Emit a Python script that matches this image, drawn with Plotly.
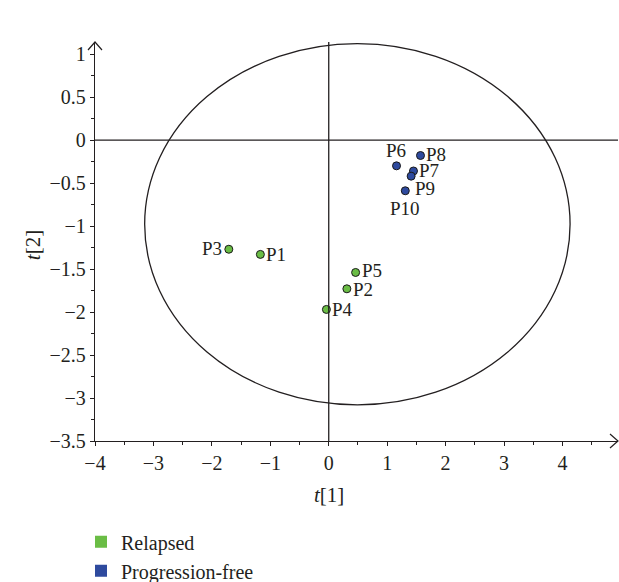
import plotly.graph_objects as go

# ---- data ----
relapsed_labels = ["P1", "P2", "P3", "P4", "P5"]
relapsed_t1 = [-1.17, 0.31, -1.71, -0.04, 0.46]
relapsed_t2 = [-1.33, -1.73, -1.27, -1.97, -1.54]

pf_labels = ["P6", "P7", "P8", "P9", "P10"]
pf_t1 = [1.16, 1.45, 1.57, 1.41, 1.31]
pf_t2 = [-0.30, -0.36, -0.18, -0.42, -0.59]

series_names = ["Relapsed", "Progression-free"]
x_tick_vals = [-4, -3, -2, -1, 0, 1, 2, 3, 4]
y_tick_vals = [1, 0.5, 0, -0.5, -1, -1.5, -2, -2.5, -3, -3.5]

ellipse_center = (0.49, -0.98)
ellipse_semi = (3.64, 2.10)

x_range = [-4, 4.95]
y_range = [-3.5, 1.14]

# ---- styling ----
FONT = "Liberation Serif"
INK = "#231f20"
GREEN = "#6abd45"
BLUE = "#2e4a9e"

# label placement (xanchor, yanchor, xshift, yshift)
label_pos = {
    "P1": ("left", "middle", 4, 0),
    "P2": ("left", "middle", 4, -1),
    "P3": ("right", "middle", -5, 1),
    "P4": ("left", "middle", 4, 0),
    "P5": ("left", "middle", 4, 2),
    "P6": ("center", "bottom", -1, 3),
    "P7": ("left", "middle", 4, 0),
    "P8": ("left", "middle", 4, 1),
    "P9": ("left", "middle", 2, -12),
    "P10": ("center", "top", 0, -5),
}

PLOT_L, PLOT_R, PLOT_T, PLOT_B = 95, 618, 42, 440.7
PW, PH = PLOT_R - PLOT_L, PLOT_B - PLOT_T

fig = go.Figure()

for name, xs, ys, color in [
    (series_names[0], relapsed_t1, relapsed_t2, GREEN),
    (series_names[1], pf_t1, pf_t2, BLUE),
]:
    fig.add_trace(go.Scatter(
        x=xs, y=ys, mode="markers", showlegend=False, hoverinfo="skip",
        marker=dict(size=8, color=color, line=dict(color="#1a1a1a", width=1)),
    ))
    fig.add_trace(go.Scatter(
        x=[None], y=[None], mode="markers", name=name,
        marker=dict(symbol="square", size=12, color=color),
    ))

annotations = []
for labels, xs, ys in [(relapsed_labels, relapsed_t1, relapsed_t2), (pf_labels, pf_t1, pf_t2)]:
    for lab, x, y in zip(labels, xs, ys):
        xa, ya, xs_, ys_ = label_pos[lab]
        annotations.append(dict(
            x=x, y=y, text=lab, showarrow=False, xanchor=xa, yanchor=ya,
            xshift=xs_, yshift=ys_, font=dict(family=FONT, size=19, color=INK),
        ))

annotations.append(dict(x=0, xref="x", y=(PLOT_B - 495) / PH, yref="paper", text="<i>t</i>[1]",
                        showarrow=False, font=dict(family=FONT, size=21, color=INK),
                        xanchor="center", yanchor="middle"))
annotations.append(dict(x=(33 - PLOT_L) / PW, xref="paper", y=(PLOT_B - 245) / PH, yref="paper",
                        text="<i>t</i>[2]", showarrow=False, textangle=-90,
                        font=dict(family=FONT, size=21, color=INK), xanchor="center", yanchor="middle"))

def px_x(dx):
    return dx / PW

def px_y(dy):
    return dy / PH

shapes = [
    dict(type="circle", xref="x", yref="y",
         x0=ellipse_center[0] - ellipse_semi[0], x1=ellipse_center[0] + ellipse_semi[0],
         y0=ellipse_center[1] - ellipse_semi[1], y1=ellipse_center[1] + ellipse_semi[1],
         line=dict(color=INK, width=1.3)),
    dict(type="line", xref="x", yref="paper", x0=0, x1=0, y0=0, y1=1, line=dict(color=INK, width=1.3)),
    dict(type="line", xref="paper", yref="y", x0=0, x1=1, y0=0, y1=0, line=dict(color=INK, width=1.3)),
    dict(type="path", xref="paper", yref="paper",
         path=f"M {1 - px_x(8)},{px_y(7)} L 1,0 L {1 - px_x(8)},{-px_y(7)}",
         line=dict(color=INK, width=1.2)),
    dict(type="path", xref="paper", yref="paper",
         path=f"M {-px_x(7)},{1 - px_y(8)} L 0,1 L {px_x(7)},{1 - px_y(8)}",
         line=dict(color=INK, width=1.2)),
]

axis_common = dict(
    showgrid=False, zeroline=False, showline=True, linecolor=INK, linewidth=1.3,
    ticks="outside", ticklen=4, tickwidth=1, tickcolor=INK,
    tickfont=dict(family=FONT, size=20, color=INK),
)

fig.update_layout(
    width=619, height=582,
    margin=dict(l=PLOT_L, r=619 - PLOT_R, t=PLOT_T, b=582 - PLOT_B, autoexpand=False),
    plot_bgcolor="white", paper_bgcolor="white",
    xaxis=dict(range=x_range, tickvals=x_tick_vals, **axis_common,
               minor=dict(dtick=0.5, ticklen=3, tickcolor=INK, ticks="outside")),
    yaxis=dict(range=y_range, tickvals=y_tick_vals, **axis_common,
               minor=dict(dtick=0.25, ticklen=3, tickcolor=INK, ticks="outside")),
    shapes=shapes,
    annotations=annotations,
    showlegend=True,
    legend=dict(x=(81 - PLOT_L) / PW, y=(PLOT_B - 522) / PH, xanchor="left", yanchor="top",
                font=dict(family=FONT, size=20, color=INK), bgcolor="rgba(0,0,0,0)",
                tracegroupgap=0, itemwidth=30),
)

fig.write_html("out.html", config={"displayModeBar": False},
               post_script="document.body.style.margin='0px';")
